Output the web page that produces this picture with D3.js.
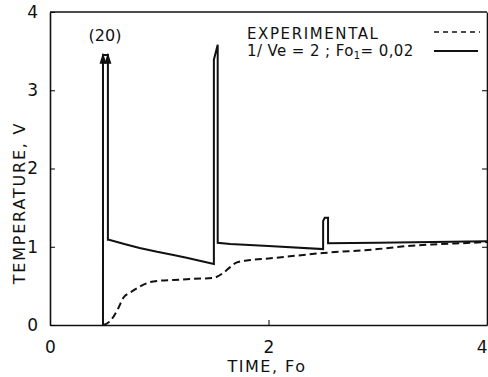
<!DOCTYPE html>
<html>
<head>
<meta charset="utf-8">
<script src="https://cdn.jsdelivr.net/npm/d3@7"></script>
<style>
  body { margin: 0; background: #fff; }
  text { font-family: "DejaVu Sans", sans-serif; fill: #111; }
</style>
</head>
<body>
<div id="chart"></div>
<script>
// experimental curve (dashed)
var expFo = [0.49, 0.55, 0.62, 0.67, 0.74, 0.82, 0.92, 1.0, 1.13, 1.3, 1.49, 1.58, 1.65, 1.71, 1.83, 2.0, 2.5, 3.0, 3.27, 3.5, 3.85, 4.0];
var expV  = [0.0, 0.05, 0.2, 0.345, 0.42, 0.49, 0.55, 0.565, 0.575, 0.59, 0.60, 0.66, 0.74, 0.80, 0.83, 0.85, 0.92, 0.97, 1.01, 1.03, 1.05, 1.06];

// model 1/Ve = 2 ; Fo1 = 0,02 (solid)
var modFo = [0.485, 0.485, 0.53, 0.53, 0.54, 0.68, 0.82, 0.98, 1.13, 1.25, 1.37, 1.50, 1.50, 1.535, 1.535, 1.65, 2.0, 2.5, 2.5, 2.515, 2.545, 2.545, 3.0, 3.5, 4.0];
var modV  = [0.0, 3.45, 3.45, 1.09, 1.09, 1.035, 0.985, 0.935, 0.895, 0.86, 0.82, 0.78, 3.39, 3.58, 1.05, 1.035, 1.01, 0.97, 1.33, 1.37, 1.37, 1.045, 1.05, 1.06, 1.07];

// arrow tips for the off-scale pulse
var arrowFo = [0.485, 0.53];
var arrowV = 3.48;

var xTicks = [0, 2, 4];
var yTicks = [0, 1, 2, 3, 4];

var width = 488, height = 377;
var margin = {top: 12, right: 1, bottom: 52, left: 50};

var svg = d3.select("#chart").append("svg")
    .attr("width", width)
    .attr("height", height);

var x = d3.scaleLinear().domain([0, 4]).range([margin.left, width - margin.right]);
var y = d3.scaleLinear().domain([0, 4]).range([height - margin.bottom, margin.top]);

//axes with inward ticks
var gx = svg.append("g")
    .attr("transform", "translate(0," + y(0) + ")")
    .call(d3.axisBottom(x).tickValues(xTicks).tickFormat(d3.format("d")).tickSizeInner(-5).tickSizeOuter(0).tickPadding(16));
gx.select(".domain").attr("stroke", "#111").attr("stroke-width", 1.6);
gx.selectAll("text").attr("font-size", 17);
// last label sits on the window edge, pull it inside
gx.selectAll(".tick text").filter(function(d) { return d === 4; })
    .attr("text-anchor", "end").attr("x", 0);

var gy = svg.append("g")
    .attr("transform", "translate(" + x(0) + ",0)")
    .call(d3.axisLeft(y).tickValues(yTicks).tickFormat(d3.format("d")).tickSizeInner(-5).tickSizeOuter(0).tickPadding(12));
gy.select(".domain").attr("stroke", "#111").attr("stroke-width", 1.6);
gy.selectAll("text").attr("font-size", 17);

svg.append("g")
    .attr("transform", "translate(" + x(4) + ",0)")
    .call(d3.axisRight(y).tickValues([1, 2, 3]).tickSizeInner(-5).tickSizeOuter(0).tickFormat(""))
    .select(".domain").attr("stroke", "#111").attr("stroke-width", 1.6);

svg.append("line")
    .attr("x1", x(0)).attr("x2", x(4))
    .attr("y1", y(4)).attr("y2", y(4))
    .attr("stroke", "#111").attr("stroke-width", 1.6);

//curves
var line = d3.line()
    .x(function(d) { return x(d[0]); })
    .y(function(d) { return y(d[1]); });

var expData = expFo.map(function(f, i) { return [f, expV[i]]; });
var modData = modFo.map(function(f, i) { return [f, modV[i]]; });

svg.append("path")
    .datum(expData)
    .attr("d", line.curve(d3.curveMonotoneX))
    .attr("fill", "none")
    .attr("stroke", "#111")
    .attr("stroke-width", 2)
    .attr("stroke-dasharray", "7,4");

svg.append("path")
    .datum(modData)
    .attr("d", line.curve(d3.curveLinear))
    .attr("fill", "none")
    .attr("stroke", "#111")
    .attr("stroke-width", 2)
    .attr("stroke-linejoin", "miter");

svg.selectAll(".arrow")
    .data(arrowFo)
  .enter().append("path")
    .attr("class", "arrow")
    .attr("d", "M0,0 L-3.5,11 L3.5,11 Z")
    .attr("transform", function(d) { return "translate(" + x(d) + "," + y(arrowV) + ")"; })
    .attr("fill", "#111");

//labels
svg.append("text")
    .attr("x", 105)
    .attr("y", 41)
    .attr("text-anchor", "middle")
    .attr("font-size", 16)
    .text("(20)");

svg.append("text")
    .attr("x", 267)
    .attr("y", 372)
    .attr("text-anchor", "middle")
    .attr("font-size", 16)
    .attr("letter-spacing", 1.5)
    .text("TIME, Fo");

svg.append("text")
    .attr("transform", "translate(25," + 203 + ") rotate(-90)")
    .attr("text-anchor", "middle")
    .attr("font-size", 16)
    .attr("letter-spacing", 1.8)
    .text("TEMPERATURE, V");

//legend
var leg = svg.append("g");
leg.append("text")
    .attr("x", 247).attr("y", 39)
    .attr("font-size", 15)
    .attr("letter-spacing", 1.6)
    .text("EXPERIMENTAL");

var t2 = leg.append("text")
    .attr("x", 247).attr("y", 56)
    .attr("font-size", 15)
    .attr("letter-spacing", 0.4);
t2.append("tspan").text("1/ Ve = 2 ; Fo");
t2.append("tspan").attr("dy", 3).attr("font-size", 10).text("1");
t2.append("tspan").attr("dy", -3).text("= 0,02");

leg.append("line")
    .attr("x1", 434).attr("x2", 480).attr("y1", 32).attr("y2", 32)
    .attr("stroke", "#111").attr("stroke-width", 1.6)
    .attr("stroke-dasharray", "5,4");
leg.append("line")
    .attr("x1", 434).attr("x2", 478).attr("y1", 51).attr("y2", 51)
    .attr("stroke", "#111").attr("stroke-width", 1.8);
</script>
</body>
</html>
